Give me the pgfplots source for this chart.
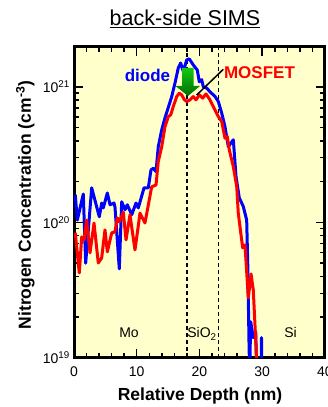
\documentclass[border=0pt]{standalone}
\usepackage{pgfplots}
\pgfplotsset{compat=1.18}
\usepackage{fontspec}
\setmainfont{Liberation Sans}
\definecolor{bgyel}{RGB}{255,255,204}
\definecolor{arrg1}{RGB}{20,200,20}
\definecolor{arrg2}{RGB}{0,110,0}
\begin{document}
\begin{tikzpicture}[x=1pt,y=1pt]
\path[use as bounding box] (0,0) rectangle (328,407);
\begin{axis}[
  at={(74pt,49pt)}, anchor=south west,
  scale only axis, width=251pt, height=311pt,
  xmin=0, xmax=40, ymode=log, ymin=1e19, ymax=1.97e21,
  axis background/.style={fill=bgyel},
  axis line style={line width=3pt},
  xtick={0,10,20,30,40}, xticklabels={0,10,20,30,40},
  minor x tick num=4,
  ytick={1e19,1e20,1e21},
  yticklabels={10\textsuperscript{19},10\textsuperscript{20},10\textsuperscript{21}},
  tick align=inside, tick pos=both,
  major tick length=9pt, minor tick length=5pt,
  every tick/.style={black, line width=1.5pt},
  tick label style={font=\fontsize{14}{16}\selectfont, inner sep=0pt},
  yticklabel style={xshift=-4pt},
  xticklabel style={yshift=-9pt},
  clip=true,
]
\draw[black, line width=1.5pt, dash pattern=on 4pt off 3pt] (axis cs:18,1e19) -- (axis cs:18,1.97e21);
\draw[black, line width=1.5pt, dash pattern=on 4pt off 3pt] (axis cs:23,1e19) -- (axis cs:23,1.97e21);
\addplot[blue, line width=3pt, line join=round, mark=none] coordinates {
(0.20,1.60e20) (0.53,1.04e20) (1.48,1.62e20) (1.86,5.0e19) (2.82,1.80e20)
(4.03,1.10e20) (4.41,1.39e20) (4.67,1.28e20) (5.31,1.65e20) (5.74,1.35e20)
(6.37,1.39e20) (6.53,1.30e20) (7.22,4.54e19) (7.60,1.42e20) (8.13,1.24e20)
(8.49,1.35e20) (9.20,1.14e20) (9.88,1.39e20) (10.25,1.28e20) (11.16,1.80e20)
(11.84,1.80e20) (12.27,2.44e20) (12.64,2.51e20) (13.07,2.37e20) (13.43,3.62e20)
(13.98,4.82e20) (14.50,5.90e20) (15.57,8.47e20) (16.10,1.07e21) (16.62,1.38e21)
(17.00,1.50e21) (17.42,1.30e21) (17.96,1.58e21) (18.37,1.61e21) (19.01,1.45e21)
(19.65,1.33e21) (19.97,1.09e21) (20.35,1.13e21) (20.61,1.00e21) (21.15,9.8e20)
(21.67,9.2e20) (22.47,8.5e20) (23.00,7.8e20) (23.54,6.4e20) (24.06,5.1e20)
(24.59,3.62e20) (25.39,4.07e20) (25.82,2.18e20) (26.34,1.52e20) (26.98,1.31e20)
(27.52,1.04e20) (27.70,4.72e19) (27.90,1.21e19) (28.00,8e18) (28.16,1.85e19)
(28.57,1.41e19) (28.96,1.56e19) (29.11,8e18) (29.80,5e18) (29.88,1.41e19) (29.95,5e18)
};
\addplot[red, line width=3pt, line join=round, mark=none] coordinates {
(0.20,8.4e19) (0.84,4.24e19) (1.23,7.82e19) (1.59,7.43e19) (2.02,1.04e20)
(2.55,5.96e19) (3.19,9.9e19) (3.87,5.02e19) (4.41,5.47e19) (4.94,8.81e19)
(5.31,6.06e19) (6.01,8.37e19) (6.53,8.51e19) (6.90,1.08e20) (7.22,1.01e20)
(7.86,1.19e20) (8.29,7.43e19) (8.92,1.14e20) (9.72,6.27e19) (10.52,1.17e20)
(11.31,9.9e19) (12.38,1.83e20) (13.07,1.89e20) (13.43,2.81e20) (13.98,3.62e20)
(14.50,5.09e20) (15.03,6.04e20) (15.41,6.21e20) (15.82,7.16e20) (16.37,8.48e20)
(16.78,8.99e20) (17.16,8.73e20) (17.53,8.11e20) (17.96,7.79e20) (18.49,8.02e20)
(19.01,8.48e20) (19.44,8.02e20) (19.97,8.73e20) (20.51,8.26e20) (21.04,8.87e20)
(21.67,8.02e20) (22.20,7.16e20) (23.00,6.04e20) (23.54,5.55e20) (24.06,4.18e20)
(24.43,4.30e20) (24.75,3.43e20) (25.39,2.58e20) (25.93,1.84e20) (26.18,1.17e20)
(26.88,6.49e19) (27.25,6.83e19) (27.78,2.77e19) (28.21,4.17e19) (28.57,3.18e19)
(29.20,8e18)
};
\end{axis}
% green arrow
\shade[top color=arrg1, bottom color=arrg2]
  (182,339) -- (193.5,339) -- (193.5,321) -- (200,321) -- (188,311) -- (175.5,321) -- (182,321) -- cycle;
% annotation line
\draw[black, line width=1.5pt] (223.3,337.7) -- (196.7,312);
% texts
\node[anchor=base, inner sep=0pt, blue, font=\fontsize{17}{20}\selectfont\bfseries] at (147.5,325) {diode};
\node[anchor=base, inner sep=0pt, red, font=\fontsize{17}{20}\selectfont\bfseries] at (259.5,328.7) {MOSFET};
\node[anchor=base, inner sep=0pt, font=\fontsize{14}{16}\selectfont] at (129,69) {Mo};
\node[anchor=base, inner sep=0pt, font=\fontsize{14}{16}\selectfont] at (202,69) {SiO\textsubscript{2}};
\node[anchor=base, inner sep=0pt, font=\fontsize{14}{16}\selectfont] at (290.5,69) {Si};
\node[anchor=base, inner sep=0pt, font=\fontsize{21.5}{24}\selectfont] at (185,381) {\underline{back-side SIMS}};
\node[anchor=base, inner sep=0pt, font=\fontsize{17.5}{20}\selectfont\bfseries] at (200,6) {Relative Depth (nm)};
\node[anchor=base, inner sep=0pt, rotate=90, font=\fontsize{17.5}{20}\selectfont\bfseries] at (31,202) {Nitrogen Concentration (cm\textsuperscript{-3})};
\end{tikzpicture}
\end{document}
